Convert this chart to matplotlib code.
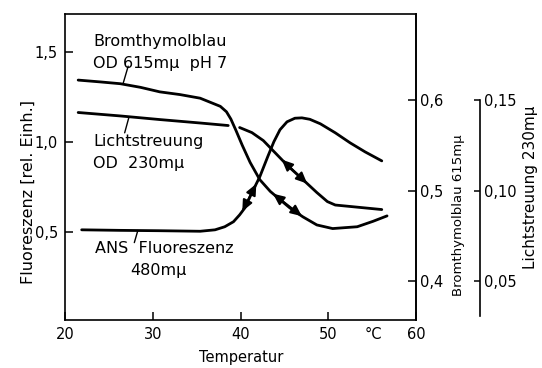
import numpy as np
import matplotlib.pyplot as plt

# temperature axis (deg C)
x_ticks = [20, 30, 40, 50, 60]

# ANS Fluoreszenz 480 mu (left axis, rel. units)
ans_t = [21.9, 26.3, 30.8, 35.4, 37.1, 38.2, 39.2, 39.9, 40.5, 41.3, 42.2,
         43.1, 43.8, 44.5, 45.3, 46.2, 47.0, 47.9, 49.1, 50.8, 52.5, 54.2,
         56.1]
ans_v = [0.511, 0.508, 0.506, 0.503, 0.511, 0.528, 0.556, 0.594, 0.633,
         0.717, 0.806, 0.917, 1.000, 1.067, 1.111, 1.131, 1.133, 1.125,
         1.100, 1.050, 0.994, 0.944, 0.894]

# Bromthymolblau OD 615 mu (first right axis)
btb_t = [21.5, 24.0, 26.3, 28.6, 30.8, 33.1, 35.4, 37.7, 38.4, 38.9, 39.5,
         40.2, 41.1, 42.2, 43.4, 44.5, 45.6, 47.1, 48.7, 50.5, 53.3, 55.1,
         56.7]
btb_v = [0.622, 0.620, 0.618, 0.614, 0.609, 0.606, 0.602, 0.593, 0.587,
         0.579, 0.566, 0.550, 0.531, 0.512, 0.499, 0.490, 0.481, 0.471,
         0.462, 0.458, 0.460, 0.466, 0.472]

# Lichtstreuung OD 230 mu (second right axis); line is broken where it
# passes under the Bromthymolblau curve
ls_t = [21.5, 26.3, 30.8, 35.4, 38.6, 39.9, 41.3, 42.6, 43.7, 44.8, 45.6,
        47.1, 48.7, 49.9, 50.8, 52.5, 56.1]
ls_v = [0.1431, 0.1412, 0.1392, 0.1373, 0.1359, 0.1348, 0.1320, 0.1276,
        0.1221, 0.1166, 0.1127, 0.1061, 0.0989, 0.0939, 0.0920, 0.0912,
        0.0895]
ls_break = 5

# where the double arrows sit (temperature range)
ans_arrow = [40.2, 41.8]
btb_arrow = [43.7, 47.0]
ls_arrow = [44.7, 47.6]

left_ticks = [0.5, 1.0, 1.5]
left_labels = ['0,5', '1,0', '1,5']
btb_ticks = [0.4, 0.5, 0.6]
btb_labels = ['0,4', '0,5', '0,6']
ls_ticks = [0.05, 0.10, 0.15]
ls_labels = ['0,05', '0,10', '0,15']

plt.rcParams['font.family'] = 'DejaVu Sans'
LW = 2.0

fig = plt.figure(figsize=(5.42, 3.68), dpi=100)
ax = fig.add_axes([65 / 542, 48 / 368, 351 / 542, 306 / 368])
ax_b = ax.twinx()
ax_l = ax.twinx()

ax.set_xlim(20, 60)
ax.set_ylim(0.01, 1.71)
ax_b.set_ylim(0.357, 0.695)
ax_l.set_ylim(0.0285, 0.1975)

# curves
ax.plot(ans_t, ans_v, color='black', lw=LW, solid_capstyle='round')
ax_b.plot(btb_t, btb_v, color='black', lw=LW, solid_capstyle='round')
ax_l.plot(ls_t[:ls_break], ls_v[:ls_break], color='black', lw=LW,
          solid_capstyle='round')
ax_l.plot(ls_t[ls_break:], ls_v[ls_break:], color='black', lw=LW,
          solid_capstyle='round')


def double_arrow(axis, t, v, span):
    y = np.interp(span, t, v)
    axis.annotate('', xy=(span[1], y[1]), xytext=(span[0], y[0]),
                  arrowprops=dict(arrowstyle='<|-|>,head_length=0.6,'
                                  'head_width=0.27', color='black',
                                  lw=1.5, shrinkA=0, shrinkB=0,
                                  mutation_scale=11))


double_arrow(ax, ans_t, ans_v, ans_arrow)
double_arrow(ax_b, btb_t, btb_v, btb_arrow)
double_arrow(ax_l, ls_t, ls_v, ls_arrow)

# labels on the curves
fs = 11.5
ax.text(23.2, 1.530, 'Bromthymolblau', fontsize=fs, va='baseline')
ax.text(23.2, 1.409, 'OD 615mμ  pH 7', fontsize=fs, va='baseline')
ax.text(23.2, 0.974, 'Lichtstreuung', fontsize=fs, va='baseline')
ax.text(23.2, 0.854, 'OD  230mμ', fontsize=fs, va='baseline')
ax.text(23.4, 0.382, 'ANS  Fluoreszenz', fontsize=fs, va='baseline')
ax.text(27.4, 0.261, '480mμ', fontsize=fs, va='baseline')

leader = dict(arrowstyle='-', color='black', lw=1, shrinkA=0, shrinkB=0)
ax_b.annotate('', xy=(26.6, np.interp(26.6, btb_t, btb_v)),
              xytext=(27.2, 1.42), textcoords=ax.transData,
              arrowprops=leader)
ax_l.annotate('', xy=(27.3, np.interp(27.3, ls_t, ls_v)),
              xytext=(26.8, 1.05), textcoords=ax.transData,
              arrowprops=leader)
ax.annotate('', xy=(28.3, np.interp(28.3, ans_t, ans_v)),
            xytext=(27.9, 0.44), arrowprops=leader)

# main axes
for s in ax.spines.values():
    s.set_linewidth(1.2)
ax.set_xticks(x_ticks)
ax.set_xticklabels([str(v) for v in x_ticks])
ax.set_yticks(left_ticks)
ax.set_yticklabels(left_labels)
ax.tick_params(axis='both', direction='in', length=6, width=1.1,
               labelsize=10.5, pad=5)
ax.text(55.1, -0.049, '°C', transform=ax.get_xaxis_transform(),
        fontsize=10.5, ha='center', va='center')
ax.set_xlabel('Temperatur', fontsize=10.5, va='top')
ax.xaxis.set_label_coords(0.501, -0.098)
ax.set_ylabel('Fluoreszenz [rel. Einh.]', fontsize=11.5, va='center')
ax.yaxis.set_label_coords(-0.105, 0.418)

# Bromthymolblau axis
for name in ['left', 'top', 'bottom']:
    ax_b.spines[name].set_visible(False)
ax_b.spines['right'].set_linewidth(1.2)
ax_b.set_yticks(btb_ticks)
ax_b.set_yticklabels(btb_labels)
ax_b.tick_params(direction='in', length=6, width=1.1, labelsize=10.5,
                 pad=3)
ax_b.set_ylabel('Bromthymolblau 615mμ', fontsize=9.5, va='center')
ax_b.yaxis.set_label_coords(1.1225, 0.343)

# Lichtstreuung axis
for name in ['left', 'top', 'bottom']:
    ax_l.spines[name].set_visible(False)
ax_l.spines['right'].set_position(('axes', 415 / 351))
ax_l.spines['right'].set_bounds(0.0305, 0.15)
ax_l.spines['right'].set_linewidth(1.2)
ax_l.set_yticks(ls_ticks)
ax_l.set_yticklabels(ls_labels)
ax_l.tick_params(direction='in', length=4, width=1.1, labelsize=10.5,
                 pad=3)
ax_l.set_ylabel('Lichtstreuung 230mμ', fontsize=11, va='center')
ax_l.yaxis.set_label_coords(465 / 351, 0.432)

fig.savefig('out.png', dpi=100)
